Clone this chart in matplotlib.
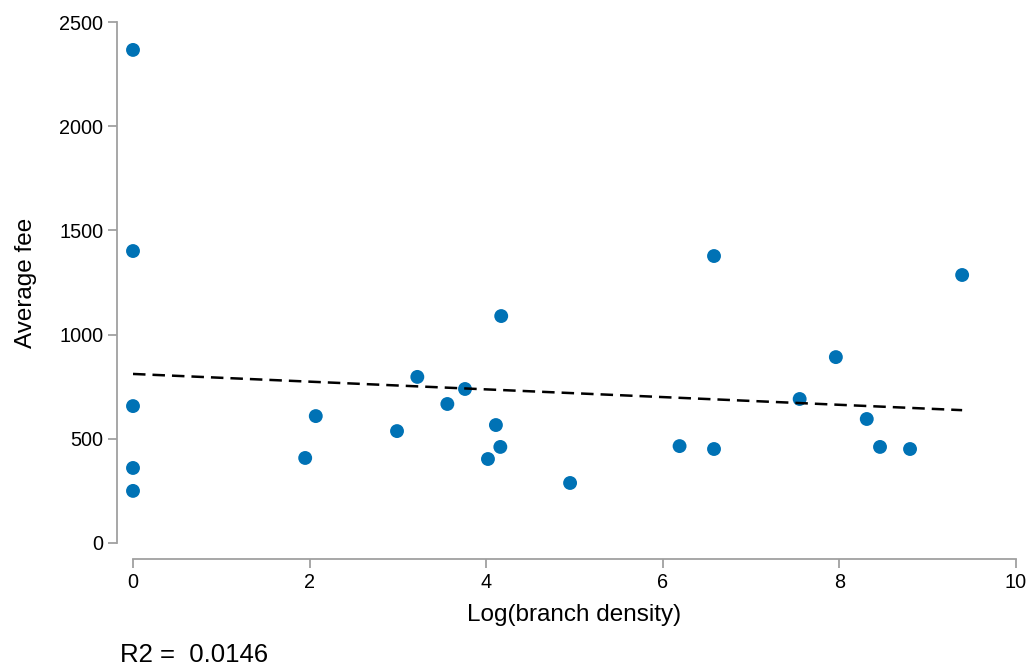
import matplotlib
matplotlib.use("Agg")
import matplotlib.pyplot as plt
import numpy as np

plt.rcParams['font.family'] = ['Liberation Sans', 'DejaVu Sans']

# values
log_density = [0, 0, 0, 0, 0, 1.95, 2.07, 2.99, 3.22, 3.56, 3.76, 4.02, 4.11, 4.16, 4.17,
               4.95, 6.19, 6.58, 6.58, 7.55, 7.96, 8.31, 8.46, 8.80, 9.39]
avg_fee = [2366, 1401, 657, 360, 250, 408, 609, 537, 797, 667, 739, 403, 566, 461, 1089,
           288, 465, 1377, 451, 691, 892, 595, 461, 451, 1286]
r2_text = "R2 =  0.0146"

x = np.array(log_density)
y = np.array(avg_fee)

fig = plt.figure(figsize=(10.29, 6.69), dpi=100)
ax = fig.add_axes([133/1029, 126/669, 883/1029, 521/669])

ax.scatter(x, y, s=100, color='#0072b5', edgecolors='none', zorder=2, clip_on=False)

# least squares trend line
slope, intercept = np.polyfit(x, y, 1)
xs = np.array([x.min(), x.max()])
ax.plot(xs, intercept + slope * xs, color='black', lw=1.8, dashes=(5, 2.8), zorder=3)

ax.set_xlim(0, 10)
ax.set_ylim(0, 2500)
ax.set_xticks([0, 2, 4, 6, 8, 10])
ax.set_yticks([0, 500, 1000, 1500, 2000, 2500])

for side in ['top', 'right']:
    ax.spines[side].set_visible(False)
for side in ['left', 'bottom']:
    ax.spines[side].set_color('#a0a0a0')
    ax.spines[side].set_linewidth(1.3)
    ax.spines[side].set_position(('outward', 11.5))
ax.tick_params(axis='both', colors='#a0a0a0', length=6.5, width=1.3, labelsize=14.3,
               labelcolor='black', pad=3.5)

ax.set_xlabel('Log(branch density)', fontsize=17.5, labelpad=9)
ax.set_ylabel('Average fee', fontsize=17.5, labelpad=16)

fig.text(120/1029, 1 - 655/669, r2_text, fontsize=18.5, va='center', ha='left')

fig.savefig('out.png', dpi=100)
